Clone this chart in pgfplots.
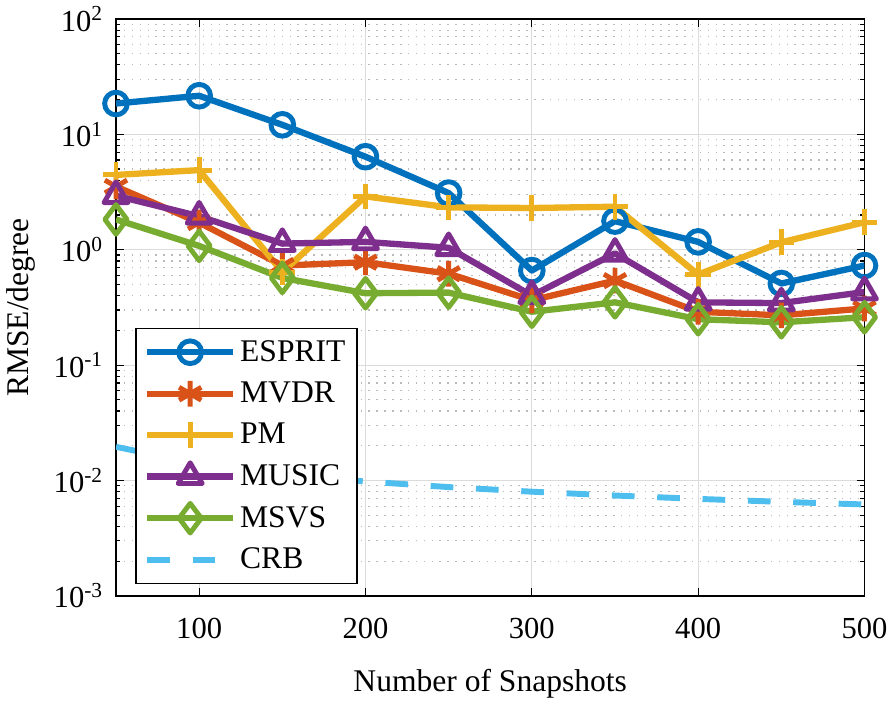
\documentclass[border=0pt]{standalone}
\usepackage{fontspec}
\setmainfont{Liberation Serif}
\usepackage{pgfplots}
\pgfplotsset{compat=1.18}
\definecolor{cE}{rgb}{0,0.447,0.741}
\definecolor{cM}{rgb}{0.85,0.325,0.098}
\definecolor{cP}{rgb}{0.929,0.694,0.125}
\definecolor{cU}{rgb}{0.494,0.184,0.556}
\definecolor{cS}{rgb}{0.466,0.674,0.188}
\definecolor{cC}{rgb}{0.301,0.745,0.933}
\begin{document}
\begin{tikzpicture}
\begin{axis}[
  scale only axis,
  width=379.5pt, height=292.5pt,
  xmin=50, xmax=500,
  ymode=log, ymin=1e-3, ymax=1e2,
  xtick={100,200,300,400,500},
  xticklabels={100,200,300,400,500},
  ytick={1e-3,1e-2,1e-1,1,10,100},
  yticklabels={10\textsuperscript{-3},10\textsuperscript{-2},10\textsuperscript{-1},10\textsuperscript{0},10\textsuperscript{1},10\textsuperscript{2}},
  minor x tick num=0,
  tick align=inside,
  major tick length=4pt, minor tick length=2.2pt,
  tick style={black, line width=0.6pt},
  axis line style={black, line width=0.9pt},
  grid=both,
  major grid style={gray!28, line width=0.6pt},
  minor grid style={gray!55, line width=0.6pt, dash pattern=on 0.8pt off 3.2pt},
  tick label style={font=\fontsize{15.5}{18}\selectfont},
  xticklabel style={yshift=-8pt},
  yticklabel style={xshift=-3pt},
  label style={font=\fontsize{16}{19}\selectfont},
  xlabel={Number of Snapshots},
  ylabel={RMSE/degree},
  xlabel style={at={(axis description cs:0.5,-0.152)}, anchor=center},
  ylabel style={at={(axis description cs:-0.127,0.5)}, anchor=center},
  legend style={at={(axis description cs:0.026,0.02)}, anchor=south west,
    font=\fontsize{16}{19}\selectfont, draw=black, line width=0.8pt, fill=white,
    inner xsep=4pt, inner ysep=4pt, row sep=5pt},
  legend cell align=left,
  legend image code/.code={\draw[mark repeat=2,mark phase=2] plot coordinates {(0pt,0pt) (21.75pt,0pt) (43.5pt,0pt)};},
  every axis plot/.append style={line width=3.2pt, line join=round},
]
\addplot[cE, mark=o, mark size=5.75pt, mark options={solid, line width=2.5pt, fill=none}] coordinates {
(50,18.5) (100,21.6) (150,12.1) (200,6.4) (250,3.1) (300,0.66) (350,1.77) (400,1.17) (450,0.51) (500,0.73)};
\addlegendentry{ESPRIT}
\addplot[cM, mark=asterisk, mark size=6.5pt, mark options={solid, line width=2.5pt}] coordinates {
(50,3.53) (100,1.72) (150,0.73) (200,0.78) (250,0.62) (300,0.365) (350,0.54) (400,0.29) (450,0.27) (500,0.31)};
\addlegendentry{MVDR}
\addplot[cP, mark=+, mark size=6.5pt, mark options={solid, line width=2.5pt}] coordinates {
(50,4.45) (100,4.9) (150,0.64) (200,2.9) (250,2.33) (300,2.3) (350,2.36) (400,0.61) (450,1.16) (500,1.73)};
\addlegendentry{PM}
\addplot[cU, mark=triangle, mark size=7pt, mark options={solid, line width=2.5pt, fill=none}] coordinates {
(50,2.94) (100,1.95) (150,1.13) (200,1.17) (250,1.04) (300,0.40) (350,0.93) (400,0.35) (450,0.345) (500,0.43)};
\addlegendentry{MUSIC}
\addplot[cS, mark=diamond, mark size=7.5pt, mark options={solid, line width=2.5pt, fill=none}] coordinates {
(50,1.83) (100,1.08) (150,0.57) (200,0.42) (250,0.425) (300,0.29) (350,0.35) (400,0.25) (450,0.235) (500,0.26)};
\addlegendentry{MSVS}
\addplot[cC, line width=3pt, dash pattern=on 11.5pt off 11.5pt] coordinates {
(50,0.0196) (100,0.01386) (150,0.01132) (200,0.0098) (250,0.00877) (300,0.0080) (350,0.00741) (400,0.00693) (450,0.00653) (500,0.0062)};
\addlegendentry{CRB}
\end{axis}
\end{tikzpicture}
\end{document}
